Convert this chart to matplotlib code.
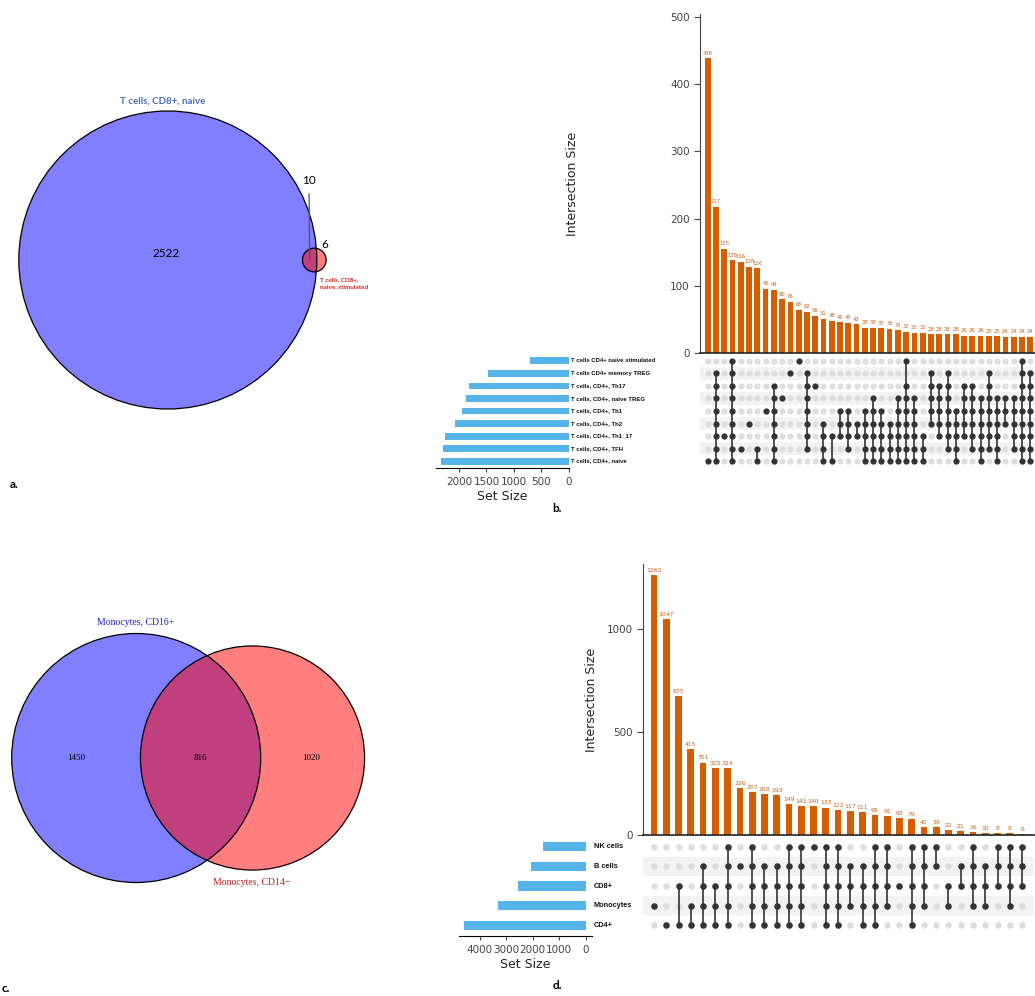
import numpy as np
import matplotlib
matplotlib.use("Agg")
import matplotlib.pyplot as plt
from matplotlib.patches import Circle
from matplotlib.transforms import blended_transform_factory

# ---- panel a: venn counts ----
a_names = ["T cells, CD8+, naive", "T cells, CD8+,\nnaive, stimulated"]
a_only1, a_both, a_only2 = 2522, 10, 6

# ---- panel c: venn counts ----
c_names = ["Monocytes, CD16+", "Monocytes, CD14\u2212"]
c_only1, c_both, c_only2 = 1450, 816, 1020

# ---- panel b: upset ----
b_sets = ["T cells CD4+ naive stimulated", "T cells CD4+ memory TREG",
          "T cells, CD4+, Th17", "T cells, CD4+, naive TREG",
          "T cells, CD4+, Th1", "T cells, CD4+, Th2",
          "T cells, CD4+, Th1_17", "T cells, CD4+, TFH",
          "T cells, CD4+, naive"]
b_set_size = [707, 1470, 1823, 1866, 1939, 2079, 2256, 2299, 2335]
b_counts = [438, 217, 155, 138, 136, 128, 126, 96, 94, 80,
            76, 65, 62, 56, 51, 48, 46, 45, 43, 38,
            38, 37, 36, 34, 32, 30, 30, 28, 28, 28,
            28, 26, 26, 26, 25, 25, 24, 24, 24, 24]
# membership per column, rows listed top to bottom as in b_sets
b_members = ["000000001", "011111111", "000000100", "111111111", "000000010",
             "000001000", "000000011", "000010000", "001111111", "000100000",
             "010000000", "100000000", "011111110", "001000000", "000001111",
             "000000101", "000011100", "000011110", "000001100", "000011111",
             "000111111", "000011111", "000001111", "000111111", "101111111",
             "000111111", "000000111", "011111000", "001111100", "011111110",
             "000011111", "001111100", "001111110", "000111111", "011111110",
             "000111111", "000111000", "000111110", "111111111", "011111111"]

# ---- panel d: upset ----
d_sets = ["NK cells", "B cells", "CD8+", "Monocytes", "CD4+"]
d_set_size = [1595, 2076, 2557, 3304, 4595]
d_counts = [1262, 1047, 675, 415, 351, 325, 324, 226, 207, 200, 193,
            149, 141, 140, 133, 122, 117, 111, 98, 91, 83, 79,
            40, 39, 22, 21, 16, 10, 8, 8, 6]
d_members = ["00010", "00001", "00101", "00011", "01111", "00111", "11111",
             "01000", "11111", "01111", "01111", "11111", "11111", "10000",
             "11111", "11111", "01110", "01111", "11111", "11110", "00100",
             "11111", "11110", "11000", "00110", "01100", "11110", "01110",
             "11100", "11110", "11100"]

ORANGE = "#D55E00"
BLUE = "#56B4E9"
DARK = "#333333"

W, H = 1035, 996


def rect(x0, y0, x1, y1):
    return [x0 / W, 1 - y1 / H, (x1 - x0) / W, (y1 - y0) / H]


def lens_area(r1, r2, d):
    if d >= r1 + r2:
        return 0.0
    if d <= abs(r1 - r2):
        return np.pi * min(r1, r2) ** 2
    a1 = r1 ** 2 * np.arccos((d * d + r1 * r1 - r2 * r2) / (2 * d * r1))
    a2 = r2 ** 2 * np.arccos((d * d + r2 * r2 - r1 * r1) / (2 * d * r2))
    a3 = 0.5 * np.sqrt((-d + r1 + r2) * (d + r1 - r2) * (d - r1 + r2) * (d + r1 + r2))
    return a1 + a2 - a3


def venn_layout(only1, both, only2, r1):
    # area proportional circles, returns r2 and center distance
    n1, n2 = only1 + both, only2 + both
    r2 = r1 * np.sqrt(n2 / n1)
    target = both / n1 * np.pi * r1 ** 2
    lo, hi = abs(r1 - r2) + 1e-6, r1 + r2
    for _ in range(80):
        mid = (lo + hi) / 2
        if lens_area(r1, r2, mid) > target:
            lo = mid
        else:
            hi = mid
    return r2, (lo + hi) / 2


def draw_venn(ax, cx, cy, r1, only1, both, only2):
    r2, d = venn_layout(only1, both, only2, r1)
    for (x, r, col) in [(cx, r1, "blue"), (cx + d, r2, "red")]:
        ax.add_patch(Circle((x, cy), r, facecolor=col, alpha=0.5, edgecolor="none"))
    for (x, r) in [(cx, r1), (cx + d, r2)]:
        ax.add_patch(Circle((x, cy), r, facecolor="none", edgecolor="black", lw=0.9))
    return r2, d


def upset(bar_box, mat_box, set_box, counts, members, sets, sizes,
          xlim, bar_ylim, yticks, set_xlim, set_xticks, bar_w, dot_s,
          lab_fs, set_fs, set_font, ylab_x, set_bar_h):
    n = len(sets)
    x = np.arange(len(counts))
    axb = fig.add_axes(rect(*bar_box))
    axb.bar(x, counts, width=bar_w, color=ORANGE)
    for xi, v in zip(x, counts):
        axb.text(xi, v + bar_ylim[1] * 0.008, str(v), ha="center", va="bottom",
                 fontsize=lab_fs, color="#C8641E")
    axb.set_xlim(*xlim)
    axb.set_ylim(*bar_ylim)
    axb.set_yticks(yticks)
    axb.set_xticks([])
    axb.spines[["top", "right"]].set_visible(False)
    axb.tick_params(axis="y", labelsize=7.5, colors="#444444", length=4)
    axb.spines["left"].set_color("#444444")
    axb.spines["bottom"].set_color("#222222")
    axb.spines["bottom"].set_linewidth(1.2)
    axb.set_ylabel("Intersection Size", fontsize=9, color="#222222")
    axb.yaxis.set_label_coords(ylab_x, 0.5)

    axm = fig.add_axes(rect(*mat_box))
    for i in range(n):
        if i % 2 == 1:
            axm.axhspan(i - 0.5, i + 0.5, color="#f3f3f3", zorder=0, lw=0)
    for j, m in enumerate(members):
        rows = [i for i, ch in enumerate(m) if ch == "1"]
        axm.scatter([j] * n, range(n), s=dot_s, color="#dedede", zorder=1, lw=0)
        axm.scatter([j] * len(rows), rows, s=dot_s, color=DARK, zorder=3, lw=0)
        if len(rows) > 1:
            axm.plot([j, j], [min(rows), max(rows)], color=DARK, lw=1.2, zorder=2)
    axm.set_xlim(*xlim)
    axm.set_ylim(n - 0.45, -0.55)
    axm.axis("off")

    axs = fig.add_axes(rect(*set_box))
    axs.barh(range(n), sizes, height=set_bar_h, color=BLUE)
    axs.set_ylim(n - 0.45, -0.55)
    axs.set_xlim(*set_xlim)
    axs.set_xticks(set_xticks)
    axs.set_yticks([])
    axs.spines[["top", "right", "left"]].set_visible(False)
    axs.tick_params(axis="x", labelsize=7.5, colors="#444444", length=3)
    axs.set_xlabel("Set Size", fontsize=9, color="#222222", labelpad=2)
    tr = blended_transform_factory(axs.transAxes, axs.transData)
    for i, s in enumerate(sets):
        axs.text(1.015, i, s, transform=tr, ha="left", va="center",
                 fontsize=set_fs, fontweight="bold", family=set_font, color="#111111")


fig = plt.figure(figsize=(W / 100, H / 100), dpi=100)
bg = fig.add_axes([0, 0, 1, 1])
bg.set_xlim(0, W)
bg.set_ylim(H, 0)
bg.axis("off")

# panel a
r2a, da = draw_venn(bg, 167.8, 260, 149, a_only1, a_both, a_only2)
calibri = ["Lato", "DejaVu Sans"]
bg.text(163, 101, a_names[0], color="#4A6FB5", fontsize=7, ha="center", va="center",
        family=calibri, fontweight="bold")
bg.text(166, 253, str(a_only1), fontsize=8.5, ha="center", va="center", family=calibri)
mid_a = (167.8 + 149 + 167.8 + da - r2a) / 2
bg.annotate(str(a_both), xy=(mid_a, 260), xytext=(309, 180), fontsize=8.5,
            ha="center", va="center", family=calibri,
            arrowprops=dict(arrowstyle="-", color="#555555", lw=0.9, shrinkA=4, shrinkB=0))
bg.text(325, 244, str(a_only2), fontsize=8.5, ha="center", va="center", family=calibri)
bg.text(320, 283, a_names[1], color="#D02020", fontsize=4.6, ha="left", va="center",
        family=calibri, fontweight="bold", linespacing=1.5)

# panel c
r2c, dc = draw_venn(bg, 136.2, 758, 124.5, c_only1, c_both, c_only2)
serif = ["Liberation Serif", "DejaVu Serif"]
bg.text(136, 622, c_names[0], color="#2020C0", fontsize=7, ha="center", va="center", family=serif)
bg.text(252, 882, c_names[1], color="#C02020", fontsize=7, ha="center", va="center", family=serif)
bg.text(76, 758, str(c_only1), fontsize=6.5, ha="center", va="center", family=serif)
bg.text(136.2 + (124.5 + dc - r2c) / 2, 758, str(c_both), fontsize=6.5,
        ha="center", va="center", family=serif)
bg.text(311, 758, str(c_only2), fontsize=6.5, ha="center", va="center", family=serif)

# panel labels
for (lx, ly, t) in [(14, 484, "a."), (557, 508, "b."), (6, 988, "c."), (557, 985, "d.")]:
    bg.text(lx, ly, t, fontsize=8.5, fontweight="bold", ha="center", va="center", family=calibri)

narrow = ["Liberation Sans Narrow", "Liberation Sans", "DejaVu Sans"]

# panel b
upset(bar_box=(700, 14, 1035, 353.3), mat_box=(700, 354, 1035, 468),
      set_box=(436, 354, 569, 468), counts=b_counts, members=b_members,
      sets=b_sets, sizes=b_set_size, xlim=(-0.93, 39.58), bar_ylim=(0, 504),
      yticks=[0, 100, 200, 300, 400, 500], set_xlim=(2418, 0),
      set_xticks=[2000, 1500, 1000, 500, 0], bar_w=0.69, dot_s=20,
      lab_fs=3.8, set_fs=4.3, set_font=narrow, ylab_x=-0.36, set_bar_h=0.55)

# panel d
upset(bar_box=(643, 564, 1034, 835), mat_box=(643, 836, 1034, 936),
      set_box=(459, 836, 592, 936), counts=d_counts, members=d_members,
      sets=d_sets, sizes=d_set_size, xlim=(-0.9, 30.97), bar_ylim=(0, 1315),
      yticks=[0, 500, 1000], set_xlim=(4785, -243),
      set_xticks=[4000, 3000, 2000, 1000, 0], bar_w=0.55, dot_s=22,
      lab_fs=4.4, set_fs=5.3, set_font=narrow, ylab_x=-0.115, set_bar_h=0.47)

fig.savefig("out.png", dpi=100)
